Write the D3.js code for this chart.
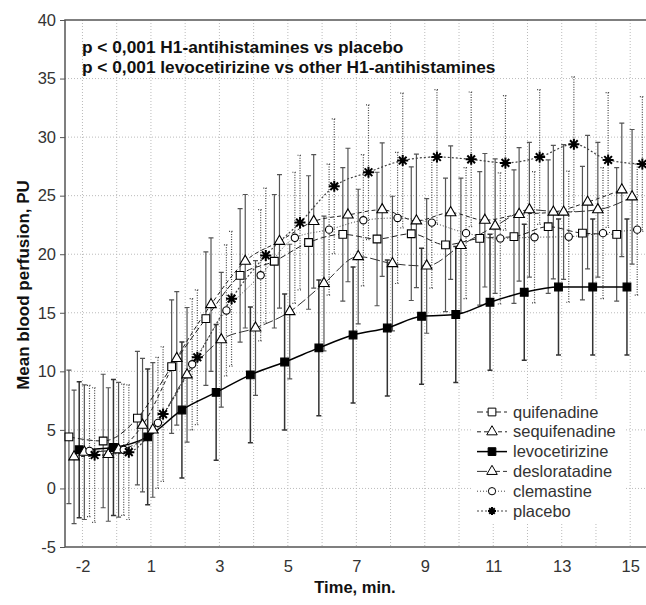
<!DOCTYPE html>
<html lang="en">
<head>
<meta charset="UTF-8">
<title>Mean blood perfusion</title>
<script src="https://cdn.jsdelivr.net/npm/d3@7"></script>
<style>
  body { margin: 0; background: #fff; }
  text { font-family: "Liberation Sans", Arial, sans-serif; }
</style>
</head>
<body>
<svg id="chart" width="646" height="605"></svg>
<script>
// measurement times (min) -- the x axis is one slot per measurement
const times = [-2, -1, 1, 2, 3, 4, 5, 6, 7, 8, 9, 10, 11, 12, 13, 14, 15];
const xTickLabels = ["-2", "1", "3", "5", "7", "9", "11", "13", "15"];
const yTicks = [-5, 0, 5, 10, 15, 20, 25, 30, 35, 40];

const seriesNames = ["quifenadine", "sequifenadine", "levocetirizine", "desloratadine", "clemastine", "placebo"];

const quifenadine    = [4.4, 4.05, 6.0, 10.4, 14.5, 18.2, 19.4, 21.0, 21.7, 21.3, 21.75, 20.8, 21.35, 21.5, 22.35, 21.8, 21.7];
const sequifenadine  = [2.7, 2.9, 5.4, 11.1, 15.7, 19.4, 21.1, 22.8, 23.35, 23.8, 22.85, 23.55, 22.9, 23.4, 23.6, 24.45, 25.5];
const levocetirizine = [3.3, 3.5, 4.4, 6.7, 8.2, 9.7, 10.8, 12.0, 13.1, 13.7, 14.7, 14.85, 15.9, 16.75, 17.2, 17.2, 17.2];
const desloratadine  = [3.1, 3.3, 5.0, 9.7, 12.7, 13.7, 15.1, 17.5, 19.8, 19.2, 19.0, 20.75, 22.4, 23.8, 23.6, 23.8, 24.9];
const clemastine     = [3.2, 3.3, 5.6, 10.6, 15.2, 18.2, 21.4, 22.1, 22.9, 23.1, 22.7, 21.8, 21.35, 21.45, 21.5, 21.8, 22.1];
const placebo        = [2.85, 3.1, 6.35, 11.2, 16.2, 19.9, 22.7, 25.8, 27.0, 28.0, 28.3, 28.1, 27.8, 28.3, 29.4, 28.05, 27.7];

// error bar half-widths per series
const errValues = [5.7, 5.7, 5.8, 5.75, 5.6, 5.75];

const allSeries = [quifenadine, sequifenadine, levocetirizine, desloratadine, clemastine, placebo];

// look of each series
const styles = [
  { marker: "square",   fill: "#fff", line: "#222", width: 1,   dash: "6,3",  bar: "#555", barDash: null },
  { marker: "triangle", fill: "#fff", line: "#222", width: 1,   dash: "4,3",  bar: "#555", barDash: null },
  { marker: "square",   fill: "#000", line: "#000", width: 1.5, dash: null,   bar: "#333", barDash: null },
  { marker: "triangle", fill: "#fff", line: "#333", width: 1,   dash: "10,3", bar: "#555", barDash: null },
  { marker: "circle",   fill: "#fff", line: "#444", width: 1,   dash: "1,2",  bar: "#444", barDash: "1,1.5" },
  { marker: "star",     fill: "none", line: "#444", width: 1.2, dash: "2,2",  bar: "#444", barDash: "1,1.5" }
];

const svg = d3.select("#chart");

const x = d3.scaleLinear().domain([-0.51, 16.52]).range([65, 648]);
const y = d3.scaleLinear().domain([-5, 40]).range([547, 20]);

// grid
const grid = svg.append("g");
grid.selectAll("line.v")
  .data(d3.range(times.length))
  .join("line")
  .attr("x1", d => x(d)).attr("x2", d => x(d))
  .attr("y1", y(40)).attr("y2", y(-5))
  .attr("stroke", "#bbb").attr("stroke-dasharray", "1,2");
grid.selectAll("line.h")
  .data(yTicks.slice(1, -1))
  .join("line")
  .attr("x1", x(-0.51)).attr("x2", 648)
  .attr("y1", d => y(d)).attr("y2", d => y(d))
  .attr("stroke", "#bbb").attr("stroke-dasharray", "1,2");

// frame
svg.append("path")
  .attr("d", `M648,${y(40)} H${x(-0.51)} V${y(-5)} H648`)
  .attr("fill", "none").attr("stroke", "#555").attr("stroke-width", 1.5);

// y axis
const yAxis = svg.append("g")
  .attr("transform", `translate(${x(-0.51)},0)`)
  .call(d3.axisLeft(y).tickValues(yTicks).tickSize(5).tickPadding(4)
    .tickFormat(d => String(d)));
yAxis.select(".domain").remove();
yAxis.selectAll("line").attr("stroke", "#555");
yAxis.selectAll("text").attr("font-size", "16.5px").attr("fill", "#333")
  .attr("font-family", "'Liberation Sans', Arial, sans-serif");

// x axis
const xTickIdx = xTickLabels.map(l => times.indexOf(+l));
const xAxis = svg.append("g")
  .attr("transform", `translate(0,${y(-5)})`)
  .call(d3.axisBottom(x).tickValues(xTickIdx).tickSize(0).tickPadding(13)
    .tickFormat((d, i) => xTickLabels[i]));
xAxis.select(".domain").remove();
xAxis.selectAll("text").attr("font-size", "16.5px").attr("fill", "#333")
  .attr("font-family", "'Liberation Sans', Arial, sans-serif");

// dodge series within each time slot
const dodge = i => (i - 2.5) * 0.15 - 0.02;

const starPath = r => {
  const d = r * 0.7;
  return `M${-r},0L${r},0M0,${-r}L0,${r}M${-d},${-d}L${d},${d}M${-d},${d}L${d},${-d}`;
};
function markerPath(kind) {
  if (kind === "square") return d3.symbol(d3.symbolSquare, 60)();
  if (kind === "triangle") return d3.symbol(d3.symbolTriangle, 48)();
  if (kind === "circle") return d3.symbol(d3.symbolCircle, 42)();
  return starPath(5.5);
}

const plot = svg.append("g");

// error bars
allSeries.forEach((vals, si) => {
  const st = styles[si];
  const e = errValues[si];
  const g = plot.append("g")
    .attr("stroke", st.bar)
    .attr("stroke-width", si === 2 ? 1.5 : 1.2)
    .attr("fill", "none");
  g.selectAll("path")
    .data(vals)
    .join("path")
    .attr("d", (v, k) => {
      const cx = x(k + dodge(si));
      const y1 = y(v + e), y0 = y(v - e);
      return `M${cx},${y1}V${y0}M${cx - 2.5},${y1}H${cx + 2.5}M${cx - 2.5},${y0}H${cx + 2.5}`;
    })
    .attr("stroke-dasharray", st.barDash);
});

// lines
const line = d3.line()
  .x(d => d[0]).y(d => d[1])
  .curve(d3.curveMonotoneX);
allSeries.forEach((vals, si) => {
  const st = styles[si];
  plot.append("path")
    .attr("d", line(vals.map((v, k) => [x(k + dodge(si)), y(v)])))
    .attr("fill", "none")
    .attr("stroke", st.line)
    .attr("stroke-width", st.width)
    .attr("stroke-dasharray", st.dash);
});

// markers
allSeries.forEach((vals, si) => {
  const st = styles[si];
  plot.append("g").selectAll("path")
    .data(vals)
    .join("path")
    .attr("transform", (v, k) => `translate(${x(k + dodge(si))},${y(v)})`)
    .attr("d", markerPath(st.marker))
    .attr("fill", st.fill)
    .attr("stroke", "#000")
    .attr("stroke-width", st.marker === "star" ? 2 : 1.1);
});

// annotation
const notes = ["p < 0,001 H1-antihistamines vs placebo", "p < 0,001 levocetirizine vs other H1-antihistamines"];
svg.append("g").selectAll("text")
  .data(notes)
  .join("text")
  .attr("x", 82)
  .attr("y", (d, i) => 52.5 + i * 20)
  .attr("font-size", "17.3px")
  .attr("font-weight", "bold")
  .attr("fill", "#111")
  .text(d => d);

// legend
const legend = svg.append("g");
legend.append("rect")
  .attr("x", 471).attr("y", 400).attr("width", 155).attr("height", 124)
  .attr("fill", "#fff");
seriesNames.forEach((name, i) => {
  const st = styles[i];
  const ly = 412 + i * 19.8;
  legend.append("line")
    .attr("x1", 477).attr("x2", 507).attr("y1", ly).attr("y2", ly)
    .attr("stroke", st.line).attr("stroke-width", st.width)
    .attr("stroke-dasharray", st.dash);
  legend.append("path")
    .attr("transform", `translate(492,${ly})`)
    .attr("d", st.marker === "star" ? starPath(4) : markerPath(st.marker))
    .attr("fill", st.fill)
    .attr("stroke", "#000")
    .attr("stroke-width", st.marker === "star" ? 2 : 1);
  legend.append("text")
    .attr("x", 513).attr("y", ly + 5.5)
    .attr("font-size", "16.5px")
    .attr("fill", "#333")
    .text(name);
});

// axis titles
svg.append("text")
  .attr("transform", "translate(28.5,285) rotate(-90)")
  .attr("text-anchor", "middle")
  .attr("font-size", "17px")
  .attr("font-weight", "bold")
  .attr("fill", "#111")
  .text("Mean blood perfusion, PU");
svg.append("text")
  .attr("x", 355).attr("y", 593)
  .attr("text-anchor", "middle")
  .attr("font-size", "16.5px")
  .attr("font-weight", "bold")
  .attr("fill", "#111")
  .text("Time, min.");
</script>
</body>
</html>
